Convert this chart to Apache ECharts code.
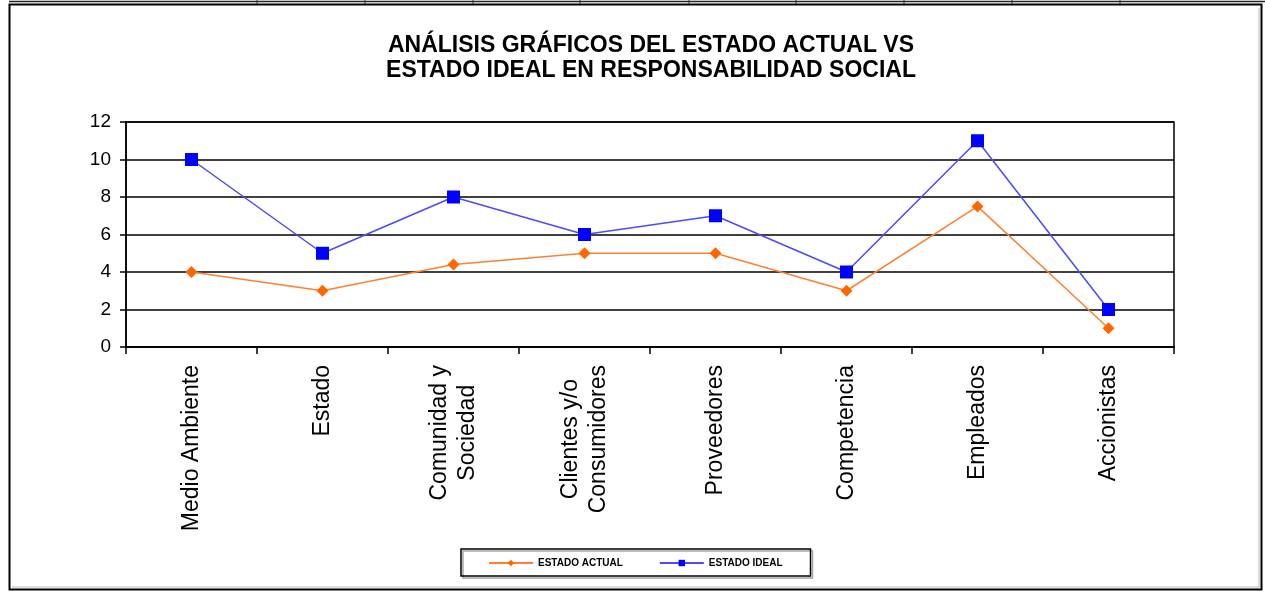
<!DOCTYPE html>
<html>
<head>
<meta charset="utf-8">
<script src="https://cdn.jsdelivr.net/npm/echarts@6/dist/echarts.min.js"></script>
<style>
html,body{margin:0;padding:0;background:#fff;}
#chart{width:1265px;height:592px;}
</style>
</head>
<body>
<div id="chart"></div>
<script>
const titleLines = ['ANÁLISIS GRÁFICOS DEL ESTADO ACTUAL VS', 'ESTADO IDEAL EN RESPONSABILIDAD SOCIAL'];
const categories = ['Medio Ambiente', 'Estado', 'Comunidad y\nSociedad', 'Clientes y/o\nConsumidores', 'Proveedores', 'Competencia', 'Empleados', 'Accionistas'];
const estadoActual = [4, 3, 4.4, 5, 5, 3, 7.5, 1];
const estadoIdeal = [10, 5, 8, 6, 7, 4, 11, 2];
const seriesNames = ['ESTADO ACTUAL', 'ESTADO IDEAL'];
const tableSeparators = [257, 365, 473, 580, 689, 796, 904, 1012, 1120];

const chart = echarts.init(document.getElementById('chart'), null, {renderer: 'canvas'});

const graphics = [
  {type: 'line', shape: {x1: 9, y1: 1.5, x2: 1265, y2: 1.5}, style: {stroke: '#222', lineWidth: 1.5}, z: 10},
  {type: 'rect', shape: {x: 9.5, y: 4.5, width: 1252, height: 585}, style: {fill: 'none', stroke: '#000', lineWidth: 2}, z: 10},
  {type: 'line', shape: {x1: 12, y1: 587, x2: 1259, y2: 587}, style: {stroke: '#bbb', lineWidth: 1}, z: 9},
  {type: 'line', shape: {x1: 1259, y1: 8, x2: 1259, y2: 587}, style: {stroke: '#bbb', lineWidth: 1}, z: 9}
];
tableSeparators.forEach(x => {
  graphics.push({type: 'line', shape: {x1: x, y1: 0, x2: x, y2: 4}, style: {stroke: '#333', lineWidth: 1}, z: 10});
});

const option = {
  backgroundColor: '#fff',
  animation: false,
  title: {
    text: titleLines.join('\n'),
    left: 646,
    textAlign: 'center',
    top: 28,
    textStyle: {fontFamily: 'Liberation Sans', fontWeight: 'bold', fontSize: 23, lineHeight: 25, color: '#000'}
  },
  legend: {
    data: seriesNames,
    left: 461,
    top: 549,
    padding: [9, 28, 8, 27],
    itemWidth: 44,
    itemHeight: 8,
    itemGap: 36,
    borderColor: '#000',
    borderWidth: 1.5,
    shadowColor: 'rgba(0,0,0,0.35)',
    shadowOffsetX: 2,
    shadowOffsetY: 2,
    textStyle: {fontFamily: 'Liberation Sans', fontWeight: 'bold', fontSize: 10, color: '#000'}
  },
  grid: {
    left: 126, right: 91, top: 122, bottom: 245,
    show: true, borderColor: '#000', borderWidth: 1.5, backgroundColor: 'transparent',
    containLabel: false
  },
  xAxis: {
    type: 'category',
    data: categories,
    boundaryGap: true,
    axisLine: {lineStyle: {color: '#000', width: 1.5}},
    axisTick: {show: true, length: 7, lineStyle: {color: '#000', width: 1.5}},
    axisLabel: {
      rotate: 90,
      interval: 0,
      margin: 18,
      fontFamily: 'Liberation Sans',
      fontSize: 23,
      lineHeight: 28,
      color: '#000',
      formatter: function (v) {
        return v.split('\n').map(s => '{a|' + s + '}').join('\n');
      },
      rich: {a: {align: 'center', fontFamily: 'Liberation Sans', fontSize: 23, lineHeight: 28, color: '#000'}}
    }
  },
  yAxis: {
    type: 'value',
    min: 0, max: 12, interval: 2,
    axisLine: {show: true, lineStyle: {color: '#000', width: 1.5}},
    axisTick: {show: true, length: 6, lineStyle: {color: '#000', width: 1.5}},
    axisLabel: {fontFamily: 'Liberation Sans', fontSize: 19, color: '#000', margin: 15},
    splitLine: {show: true, lineStyle: {color: '#000', width: 1.5}}
  },
  series: [
    {
      name: seriesNames[0],
      type: 'line',
      data: estadoActual,
      symbol: 'diamond',
      symbolSize: 12,
      itemStyle: {color: '#ff6600'},
      lineStyle: {color: '#ff8030', width: 1.5},
      z: 3
    },
    {
      name: seriesNames[1],
      type: 'line',
      data: estadoIdeal,
      symbol: 'rect',
      symbolSize: 13,
      itemStyle: {color: '#0000ff'},
      lineStyle: {color: '#4a4aff', width: 1.5},
      z: 4
    }
  ],
  graphic: graphics
};
chart.setOption(option);
</script>
</body>
</html>
